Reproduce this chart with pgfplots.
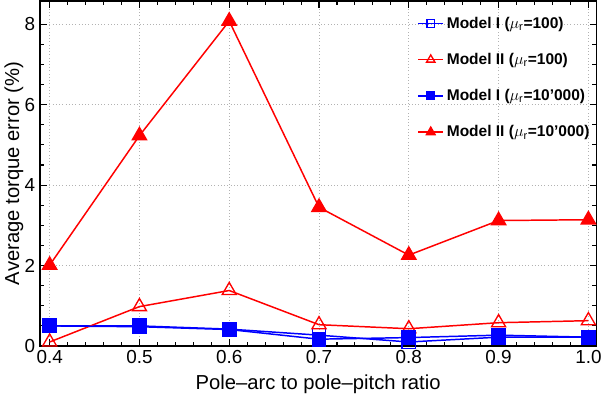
\documentclass[border=0pt]{standalone}
\usepackage{pgfplots}
\pgfplotsset{compat=1.18}
\usepackage{fontspec}
\setmainfont{Liberation Sans}
\begin{document}
\begin{tikzpicture}
\begin{axis}[
  scale only axis,
  width=413pt, height=256pt,
  xmin=0.389, xmax=1.009, ymin=0, ymax=8.58,
  xtick={0.4,0.5,...,1.0},
  xticklabels={0.4,0.5,0.6,0.7,0.8,0.9,1.0},
  ytick={0,2,4,6,8},
  minor x tick num=4, minor y tick num=3,
  tick align=inside, ticks=both,
  major tick length=5pt, minor tick length=3pt,
  axis line style={line width=1.4pt},
  every tick/.style={black, line width=0.8pt},
  grid=major, grid style={gray!60, dotted, line width=0.6pt},
  /pgf/number format/assume math mode=true,
  tick label style={font=\fontsize{14}{16}\selectfont},
  label style={font=\fontsize{15}{18}\selectfont},
  xlabel={Pole\textendash arc to pole\textendash pitch ratio},
  ylabel={Average torque error (\%)},
  xlabel style={yshift=-1pt},
  ylabel style={yshift=-6pt},
  legend style={draw=none, fill=none, at={(1.0,0.97)}, anchor=north east,
    font=\bfseries\fontsize{11.5}{13}\selectfont, row sep=13pt},
  legend cell align=left,
  legend image code/.code={\draw[mark repeat=2,mark phase=2] plot coordinates {(0cm,0cm)(0.33cm,0cm)(0.66cm,0cm)};},
]
\addlegendimage{blue, line width=1.1pt, mark=square, mark size=2.8pt, mark options={solid, line width=1pt}}
\addlegendentry{Model I ($\mu_\mathrm{r}$=100)}
\addlegendimage{red, line width=1.1pt, mark=triangle, mark size=3.6pt, mark options={solid, line width=1pt}}
\addlegendentry{Model II ($\mu_\mathrm{r}$=100)}
\addlegendimage{blue, line width=1.1pt, mark=square*, mark size=2.8pt, mark options={solid}}
\addlegendentry{Model I ($\mu_\mathrm{r}$=10'000)}
\addlegendimage{red, line width=1.1pt, mark=triangle*, mark size=3.6pt, mark options={solid}}
\addlegendentry{Model II ($\mu_\mathrm{r}$=10'000)}
\addplot[forget plot, blue, line width=1.1pt, mark=square, mark size=5pt, mark options={solid, line width=1pt}] coordinates {
(0.4,0.50) (0.5,0.50) (0.6,0.42) (0.7,0.27) (0.8,0.10) (0.9,0.22) (1.0,0.22)};
\addplot[forget plot, red, line width=1.1pt, mark=triangle, mark size=6pt, mark options={solid, line width=1pt}] coordinates {
(0.4,0.10) (0.5,0.98) (0.6,1.38) (0.7,0.53) (0.8,0.43) (0.9,0.58) (1.0,0.63)};
\addplot[forget plot, blue, line width=1.1pt, mark=square*, mark size=5pt, mark options={solid}] coordinates {
(0.4,0.50) (0.5,0.48) (0.6,0.41) (0.7,0.17) (0.8,0.21) (0.9,0.27) (1.0,0.22)};
\addplot[forget plot, red, line width=1.1pt, mark=triangle*, mark size=6pt, mark options={solid}] coordinates {
(0.4,2.01) (0.5,5.23) (0.6,8.08) (0.7,3.45) (0.8,2.26) (0.9,3.12) (1.0,3.14)};
\end{axis}
\end{tikzpicture}
\end{document}
